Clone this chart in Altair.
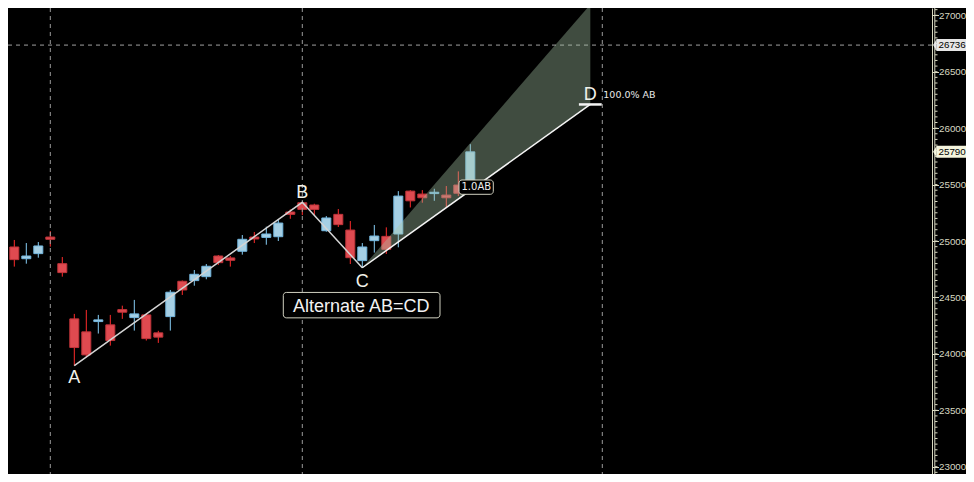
import altair as alt
import pandas as pd

# ---------------- data ----------------
opens = [24425, 24947, 24843, 24888, 25035, 24799, 24310, 24195, 24286, 24257,
         24392, 24321, 24345, 24186, 24330, 24643, 24649, 24684, 24867, 24850,
         24909, 25035, 25032, 25038, 25257, 25339, 25319, 25091, 25236, 25097,
         24826, 25003, 25041, 25062, 25442, 25416, 25420, 25407, 25496, 25511]
highs = [24867, 25009, 24982, 24991, 25088, 24858, 24354, 24389, 24345, 24345,
         24427, 24478, 24360, 24204, 24566, 24650, 24743, 24796, 24876, 24867,
         25053, 25080, 25127, 25186, 25280, 25343, 25330, 25221, 25283, 25177,
         24982, 25142, 25121, 25442, 25450, 25451, 25463, 25487, 25617, 25858]
lows = [24407, 24773, 24799, 24852, 24950, 24684, 23895, 23971, 24180, 24073,
        24310, 24206, 24118, 24097, 24206, 24522, 24604, 24661, 24788, 24773,
        24879, 24982, 24967, 25000, 25197, 25230, 25230, 25082, 25124, 24796,
        24763, 24897, 24885, 24944, 25297, 25339, 25356, 25292, 25398, 25490]
closes = [24841, 24835, 24867, 24956, 25015, 24720, 24056, 23991, 24301, 24118,
          24369, 24354, 24135, 24148, 24546, 24566, 24705, 24776, 24808, 24829,
          25015, 25018, 25062, 25159, 25236, 25280, 25280, 25204, 25145, 24852,
          24947, 25044, 24926, 25398, 25356, 25383, 25432, 25383, 25423, 25790]

pattern_names = ["A", "B", "C", "D"]
pattern_idx = [6, 25, 30, 49]
pattern_val = [23895, 25343, 24763, 26210]
fan_top = 27095                       # upper edge of the shaded projection

separator_idx = [4, 25, 50]           # dashed vertical lines
crosshair_val = 26736
flag_vals = [26736, 25790]
flag_fills = ["#e6e6e6", "#f4f4dc"]
y_ticks = [23000, 23500, 24000, 24500, 25000, 25500, 26000, 26500, 27000]
minor_ticks = [22950 + 50 * k for k in range(83)]

# ---------------- layout ----------------
W, H = 924, 466
RIGHT = 34
xs = alt.Scale(domain=[0.475, 77.475], nice=False, zero=False, padding=0)
ys = alt.Scale(domain=[22935.3, 27064.7], nice=False, zero=False, padding=0)
CREAM = "#d8d8c0"
AXFONT = "Liberation Sans"
AXSIZE = 9.8

YAX = alt.Axis(
    orient="right", values=y_ticks, format="d", title=None, grid=False,
    domainColor=CREAM, tickColor=CREAM, tickSize=6.5, labelColor=CREAM,
    labelFont=AXFONT, labelFontSize=AXSIZE, labelPadding=0,
    labelFlush=False, labelOverlap=False, labelBaseline="middle", labelAlign="left")


def Y(field):
    return alt.Y(field, scale=ys, axis=YAX)


candles = pd.DataFrame({
    "i": list(range(len(opens))),
    "open": opens, "high": highs, "low": lows, "close": closes,
})
candles["dir"] = ["up" if c >= o else "down" for o, c in zip(opens, closes)]

base = alt.Chart(candles)
X = alt.X("i:Q", scale=xs, axis=None)

wicks = base.mark_rule(strokeWidth=1, clip=True).encode(
    x=X, y=Y("low:Q"), y2="high:Q",
    color=alt.Color("dir:N", scale=alt.Scale(domain=["up", "down"],
                                             range=["#86cdf5", "#ff2b2b"]), legend=None),
)

bodies = base.mark_bar(size=9, strokeWidth=1, clip=True).encode(
    x=X, y=Y("open:Q"), y2="close:Q",
    fill=alt.Fill("dir:N", scale=alt.Scale(domain=["up", "down"],
                                           range=["#a5cfe4", "#df4a50"]), legend=None),
    stroke=alt.Stroke("dir:N", scale=alt.Scale(domain=["up", "down"],
                                               range=["#74b8e0", "#c0343a"]), legend=None),
)

# separators and crosshair
sep = alt.Chart(pd.DataFrame({"i": separator_idx})).mark_rule(
    color="#9a9a9a", strokeDash=[4, 4], strokeWidth=1, clip=True).encode(
    x=X, y=alt.value(0), y2=alt.value(H))
cross = alt.Chart(pd.DataFrame({"v": [crosshair_val]})).mark_rule(
    color="#a0a0a0", strokeDash=[4, 4], strokeWidth=1).encode(
    y=Y("v:Q"), x=alt.value(0), x2=alt.value(W))

# projection fan
fan = pd.DataFrame({
    "i": [pattern_idx[2], pattern_idx[3]],
    "lo": [pattern_val[2], pattern_val[3]],
    "hi": [pattern_val[2], fan_top],
})
fan_area = alt.Chart(fan).mark_area(color="#a8c8a8", opacity=0.38, clip=True).encode(
    x=X, y=Y("lo:Q"), y2="hi:Q")

pts = pd.DataFrame({"i": pattern_idx, "v": pattern_val, "name": pattern_names})
abc = alt.Chart(pts.iloc[:3]).mark_line(color="#d4d4d4", strokeWidth=1.5, clip=True).encode(
    x=X, y=Y("v:Q"), order="i:Q")
cd = alt.Chart(pts.iloc[2:]).mark_line(color="#f4f4f4", strokeWidth=1.5, clip=True).encode(
    x=X, y=Y("v:Q"), order="i:Q")

d_rule = alt.Chart(pd.DataFrame({"i": [pattern_idx[3] - 0.95], "i2": [pattern_idx[3] + 0.95],
                                 "v": [pattern_val[3]]})).mark_rule(
    color="#f4f4f4", strokeWidth=2.5).encode(
    x=X, x2="i2:Q", y=Y("v:Q"))

# letters
letter_dy = {"A": 17.5, "B": -3.8, "C": 19, "D": -4.2}
letters = []
for n in pattern_names:
    letters.append(
        alt.Chart(pts[pts["name"] == n]).mark_text(
            font="Liberation Sans", fontSize=18, color="#f2f2ea", align="center",
            baseline="alphabetic", dy=letter_dy[n]).encode(
            x=X, y=Y("v:Q"), text="name:N"))

pct = alt.Chart(pts[pts["name"] == "D"].assign(t="100.0% AB")).mark_text(
    font="DejaVu Sans", fontSize=9.5, color="#e8e8e8", align="left",
    baseline="alphabetic", dx=13, dy=-6.3).encode(
    x=X, y=Y("v:Q"), text="t:N")

# "Alternate AB=CD" box under C
c_df = pts[pts["name"] == "C"].assign(t="Alternate AB=CD")
alt_box = alt.Chart(c_df).mark_rect(
    fill="#000000", stroke="#d0d0c0", strokeWidth=1, cornerRadius=3,
    xOffset=-79, x2Offset=77.7, yOffset=24.7, y2Offset=50.1).encode(
    x=X, x2="i:Q", y=Y("v:Q"), y2="v:Q")
alt_txt = alt.Chart(c_df).mark_text(
    font="Liberation Sans", fontSize=18, color="#f2f2f2", align="center",
    baseline="alphabetic", dx=-1, dy=44).encode(
    x=X, y=Y("v:Q"), text="t:N")

# "1.0AB" at midpoint of CD
mid = pd.DataFrame({"i": [(pattern_idx[2] + pattern_idx[3]) / 2],
                    "v": [(pattern_val[2] + pattern_val[3]) / 2], "t": ["1.0AB"]})
mid_box = alt.Chart(mid).mark_rect(
    fill="#000000", stroke="#d0d0c0", strokeWidth=1, cornerRadius=3,
    xOffset=-17.3, x2Offset=17, yOffset=-6.1, y2Offset=8.2).encode(
    x=X, x2="i:Q", y=Y("v:Q"), y2="v:Q")
mid_txt = alt.Chart(mid).mark_text(
    font="DejaVu Sans", fontSize=10, color="#eeeeee", align="center",
    baseline="alphabetic", dy=4).encode(
    x=X, y=Y("v:Q"), text="t:N")

# right-axis ladder
ladder = alt.Chart(pd.DataFrame({"v": [0]})).mark_rule(color=CREAM, strokeWidth=1).encode(
    x=alt.value(W + 2.8), y=alt.value(0), y2=alt.value(H))
minor = alt.Chart(pd.DataFrame({"v": minor_ticks})).mark_rule(color=CREAM, strokeWidth=1).encode(
    y=Y("v:Q"), x=alt.value(W + 3), x2=alt.value(W + 5.5))

# price flags
flags = pd.DataFrame({"v": flag_vals, "t": [str(v) for v in flag_vals], "f": flag_fills})
flag_rect = alt.Chart(flags).mark_rect(yOffset=-6, y2Offset=6).encode(
    y=Y("v:Q"), y2="v:Q",
    x=alt.value(W + 4.5), x2=alt.value(W + 60),
    fill=alt.Fill("f:N", scale=None))
flag_tip = alt.Chart(flags).mark_point(
    shape="M-0.6,0L0,-1L0,1Z", filled=True, size=144, opacity=1).encode(
    y=Y("v:Q"), x=alt.value(W + 4.7),
    fill=alt.Fill("f:N", scale=None), stroke=alt.value(None))
flag_txt = alt.Chart(flags).mark_text(
    font=AXFONT, fontSize=AXSIZE, color="#000000", align="left", baseline="middle").encode(
    y=Y("v:Q"), x=alt.value(W + 6.5), text="t:N")

chart = alt.layer(
    wicks, bodies, sep, cross, fan_area, abc, cd, d_rule, *letters, pct,
    alt_box, alt_txt, mid_box, mid_txt, ladder, minor, flag_rect, flag_tip, flag_txt,
).properties(
    width=W, height=H,
    autosize=alt.AutoSizeParams(type="none"),
    padding={"left": 0, "top": 0, "right": RIGHT, "bottom": 0},
    background="#000000",
).configure_view(stroke=None)

chart.save("out.html", embed_options={"renderer": "svg", "actions": False})
